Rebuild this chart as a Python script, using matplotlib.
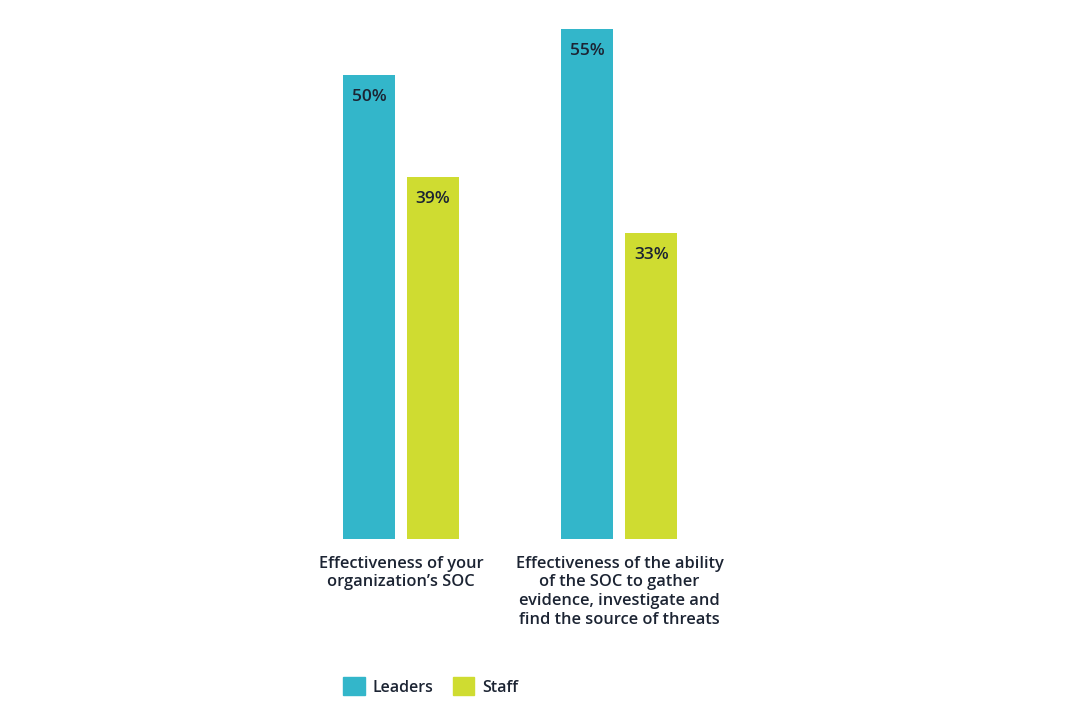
import numpy as np
import matplotlib
matplotlib.use("Agg")
import matplotlib.pyplot as plt
from matplotlib.patches import Patch

plt.rcParams['font.family'] = ['Open Sans', 'DejaVu Sans']

# Datos
categories = ["Effectiveness of your\norganization\u2019s SOC",
              "Effectiveness of the ability\nof the SOC to gather\nevidence, investigate and\nfind the source of threats"]
series_names = ["Leaders", "Staff"]
leaders = [50, 55]
staff = [39, 33]

colors = ["#33b6ca", "#cfdc31"]
text_color = "#1c2433"

fig = plt.figure(figsize=(10.72, 7.22), dpi=100)
ax = fig.add_axes([250 / 1072, (722 - 539) / 722, 520 / 1072, 538 / 722])

x = np.arange(len(categories))
width = 0.238
offset = 0.1465

b1 = ax.bar(x - offset, leaders, width, color=colors[0])
b2 = ax.bar(x + offset, staff, width, color=colors[1])

for bars, vals in [(b1, leaders), (b2, staff)]:
    for b, v in zip(bars, vals):
        ax.text(b.get_x() + b.get_width() / 2, v - 2.35, f"{v}%",
                ha='center', va='center', fontsize=12.5, fontweight='semibold',
                color=text_color)

ax.set_xlim(-0.691, 1.689)
ax.set_ylim(0, 58)
ax.axis('off')

for xi, cat in zip(x, categories):
    ax.text(xi, -1.8, cat, ha='center', va='top', fontsize=11.8,
            fontweight='semibold', color=text_color, linespacing=1.22)

handles = [Patch(color=c) for c in colors]
fig.legend(handles, series_names, loc='upper left',
           bbox_to_anchor=(329 / 1072, 1 - 663 / 722), ncol=2, frameon=False,
           handlelength=1.35, handleheight=1.35, handletextpad=0.5,
           columnspacing=1.2, prop={'weight': 'semibold', 'size': 11.5})
for t in fig.legends[0].get_texts():
    t.set_color(text_color)

fig.savefig("out.png", dpi=100, facecolor='white')
